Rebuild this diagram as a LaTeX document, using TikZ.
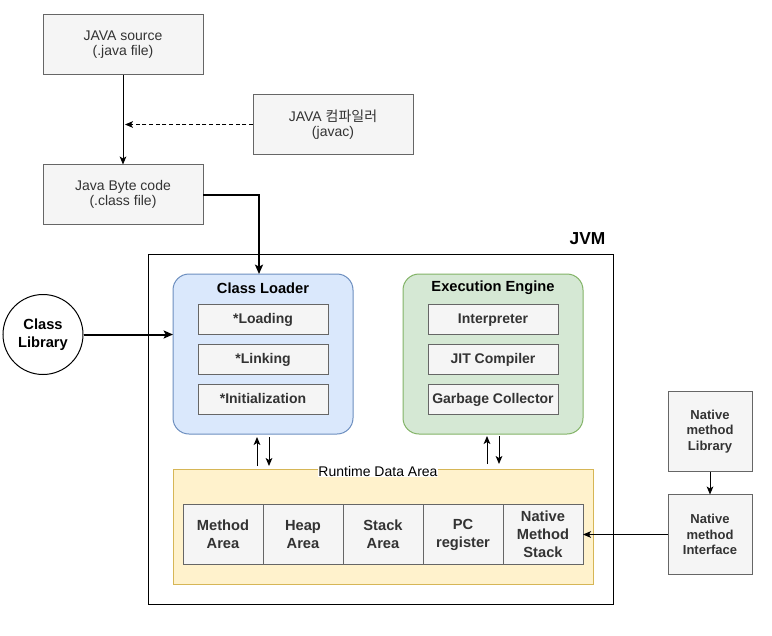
\documentclass[tikz,border=0pt]{standalone}
\usepackage{fontspec}
\setmainfont{Liberation Sans}
\newfontfamily\krfont{Noto Sans CJK KR}
\usetikzlibrary{arrows.meta,positioning,calc}
\definecolor{jvmgrayfill}{HTML}{F5F5F5}
\definecolor{jvmgrayline}{HTML}{666666}
\definecolor{jvmtext}{HTML}{333333}
\definecolor{jvmbluefill}{HTML}{DAE8FC}
\definecolor{jvmblueline}{HTML}{6C8EBF}
\definecolor{jvmgreenfill}{HTML}{D5E8D4}
\definecolor{jvmgreenline}{HTML}{82B366}
\definecolor{jvmyellowfill}{HTML}{FFF2CC}
\definecolor{jvmyellowline}{HTML}{D6B656}

\begin{document}
\begin{tikzpicture}[x=0.75pt, y=-0.75pt,
  graybox/.style={draw=jvmgrayline, fill=jvmgrayfill, text=jvmtext, align=center, inner sep=0pt, outer sep=0pt, line width=0.75pt},
  srcbox/.style={graybox, minimum width=120pt, minimum height=45pt, font=\fontsize{10.5}{11.5}\selectfont},
  itembox/.style={graybox, minimum width=97.5pt, minimum height=22.5pt, text height=9pt, text depth=2pt, font=\bfseries\fontsize{10.5}{12}\selectfont},
  cellbox/.style={graybox, minimum width=60pt, minimum height=45pt, font=\bfseries\fontsize{11}{13.5}\selectfont},
  nativebox/.style={graybox, minimum width=63pt, minimum height=60pt, font=\bfseries\fontsize{9.75}{11.5}\selectfont},
  areabox/.style={rounded corners=12pt, minimum width=135pt, minimum height=120pt, line width=0.75pt, outer sep=0pt},
  title/.style={font=\bfseries\fontsize{11}{13}\selectfont},
  arr/.style={-{Stealth[length=6pt, width=5pt, inset=1.5pt]}, line width=0.75pt},
  thickarr/.style={-{Stealth[length=7pt, width=6pt, inset=1.5pt]}, line width=1.5pt}]
\useasboundingbox (0,0) rectangle (772,636);

% source and compiler
\node[srcbox] (src) at (123,44.5) {JAVA source\\(.java file)};
\node[srcbox] (javac) at (333,124.5) {JAVA {\krfont 컴파일러}\\(javac)};
\node[srcbox] (byte) at (123,194.5) {Java Byte code\\(.class file)};

% JVM frame
\draw[line width=0.75pt] (148,254) rectangle (613,604);
\node[font=\bfseries\fontsize{13}{15}\selectfont, anchor=east] (jvm) at (610,239) {JVM};

% class loader
\node[areabox, draw=jvmblueline, fill=jvmbluefill] (cl) at (263,354) {};
\node[title] (cltitle) at (263,288) {Class Loader};
\node[itembox] (load) at (263,319) {*Loading};
\node[itembox] (link) at (263,359) {*Linking};
\node[itembox] (init) at (263,399) {*Initialization};

% execution engine
\node[areabox, draw=jvmgreenline, fill=jvmgreenfill] (ee) at (493,354) {};
\node[title] (eetitle) at (493,288) {Execution Engine};
\node[itembox] (interp) at (493,319) {Interpreter};
\node[itembox] (jit) at (493,359) {JIT Compiler};
\node[itembox] (gc) at (493,399) {Garbage Collector};

% runtime data area
\node[draw=jvmyellowline, fill=jvmyellowfill, line width=0.75pt, minimum width=315pt, minimum height=86.25pt, outer sep=0pt] (rda) at (383,526.5) {};
\node[fill=white, inner sep=0.5pt, font=\fontsize{10.5}{12}\selectfont] (rdatitle) at (378,471) {Runtime Data Area};
\node[cellbox] (method) at (223,534.5) {Method\\Area};
\node[cellbox, right=0pt of method] (heap) {Heap\\Area};
\node[cellbox, right=0pt of heap] (stack) {Stack\\Area};
\node[cellbox, right=0pt of stack] (pc) {PC\\register};
\node[cellbox, right=0pt of pc] (nstack) {Native\\Method\\Stack};

% outside the JVM
\node[circle, draw, line width=0.75pt, minimum size=60pt, align=center, inner sep=0pt, font=\bfseries\fontsize{11}{13.3}\selectfont] (lib) at (43,334.5) {Class\\Library};
\node[nativebox] (nlib) at (710,431.5) {Native\\method\\Library};
\node[nativebox] (nif) at (710,534.5) {Native\\method\\Interface};

% connectors
\draw[arr] (src) -- (byte);
\draw[arr, dashed, dash pattern=on 3pt off 2pt] (javac.west) -- ($(javac.west -| src.south)+(2,0)$);
\draw[thickarr] (byte.east) -| ($(cl.north)+(-4,0)$);
\draw[thickarr] (lib.east) -- (lib.east -| cl.west);
\draw[arr] ($(cl.south)+(-6,32)$) -- ($(cl.south)+(-6,3)$);
\draw[arr] ($(cl.south)+(6,3)$) -- ($(cl.south)+(6,32)$);
\draw[arr] ($(ee.south)+(-6,30)$) -- ($(ee.south)+(-6,2)$);
\draw[arr] ($(ee.south)+(6,2)$) -- ($(ee.south)+(6,30)$);
\draw[arr] (nlib) -- (nif);
\draw[arr] (nif.west) -- (nstack.east);
\end{tikzpicture}
\end{document}
